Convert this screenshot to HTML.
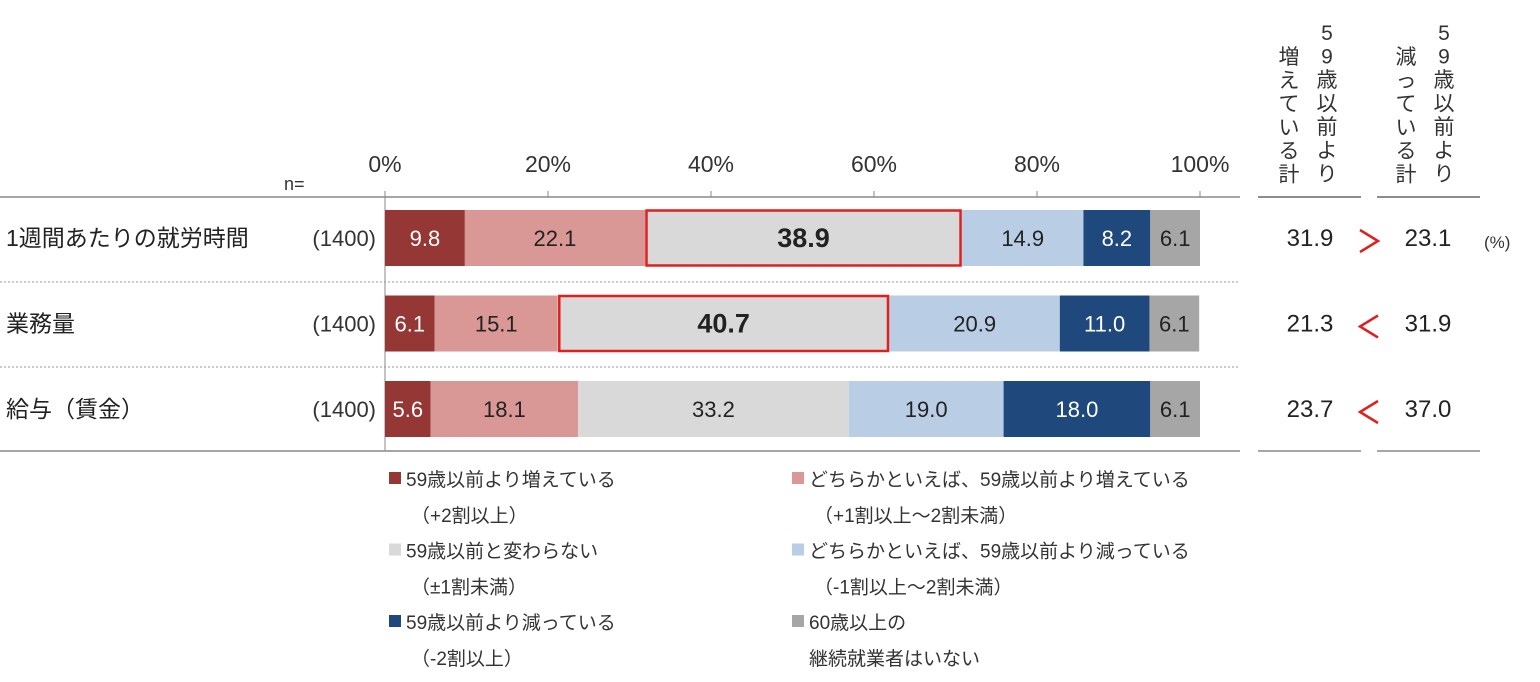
<!DOCTYPE html>
<html><head><meta charset="utf-8"><style>
html,body{margin:0;padding:0;background:#fff;width:1540px;height:682px;overflow:hidden}
svg{display:block;font-family:"Liberation Sans","Noto Sans CJK JP",sans-serif}
</style></head><body>
<svg id="chart" width="1540" height="682" viewBox="0 0 1540 682" xmlns="http://www.w3.org/2000/svg"></svg>
<script>
const categories=["1週間あたりの就労時間","業務量","給与（賃金）"];
const nValues=["(1400)","(1400)","(1400)"];
const s1=[9.8,6.1,5.6];
const s2=[22.1,15.1,18.1];
const s3=[38.9,40.7,33.2];
const s4=[14.9,20.9,19.0];
const s5=[8.2,11.0,18.0];
const s6=[6.1,6.1,6.1];
const incTotals=[31.9,21.3,23.7];
const decTotals=[23.1,31.9,37.0];
const highlight=[true,true,false];
const ticks=[0,20,40,60,80,100];
const seriesNames=["59歳以前より増えている","どちらかといえば、59歳以前より増えている","59歳以前と変わらない","どちらかといえば、59歳以前より減っている","59歳以前より減っている","60歳以上の"];
const seriesSub=["（+2割以上）","（+1割以上～2割未満）","（±1割未満）","（-1割以上～2割未満）","（-2割以上）","継続就業者はいない"];
const colors=["#953735","#d99795","#d9d9d9","#b9cde5","#1f497d","#a6a6a6"];
const textColors=["#fff","#222","#222","#222","#fff","#222"];
const svg=document.getElementById('chart');
const NS="http://www.w3.org/2000/svg";
const X0=385,X1=1200;
const x=v=>X0+(X1-X0)*v/100;
const rowY=i=>210+i*85.5;
const BH=56;
function mk(t,a,txt){const e=document.createElementNS(NS,t);for(const k in a)e.setAttribute(k,a[k]);if(txt!==undefined)e.textContent=txt;svg.appendChild(e);return e;}
let e=mk('line',{x1:0,y1:197,x2:1240,y2:197,stroke:'#888','stroke-width':1.5});

e=mk('line',{x1:0,y1:451,x2:1240,y2:451,stroke:'#888','stroke-width':1.5});

e=mk('line',{x1:X0,y1:197,x2:X0,y2:451,stroke:'#888','stroke-width':1});

[282,367].forEach(y=>{e=mk('line',{x1:0,y1:y,x2:1240,y2:y,stroke:'#999','stroke-width':1,'stroke-dasharray':'2,2'});
});
ticks.forEach(t=>{
e=mk('text',{x:x(t),y:172,'font-size':23,'text-anchor':'middle',fill:'#333'},t+'%');

e=mk('line',{x1:x(t),y1:191,x2:x(t),y2:197,stroke:'#888'});

});
e=mk('text',{x:284,y:190,'font-size':18,fill:'#333'},'n=');

const series=[s1,s2,s3,s4,s5,s6];
categories.forEach((c,i)=>{
const y=rowY(i);
e=mk('text',{x:6,y:y+BH/2+8,'font-size':23,fill:'#222'},c);

e=mk('text',{x:376,y:y+BH/2+8,'font-size':22,fill:'#333','text-anchor':'end'},nValues[i]);

let acc=0;
series.forEach((s,k)=>{
const v=s[i];
e=mk('rect',{x:x(acc),y:y,width:x(acc+v)-x(acc),height:BH,fill:colors[k]});

const bold=(k===2&&highlight[i]);
e=mk('text',{x:(x(acc)+x(acc+v))/2,y:y+BH/2+(bold?9:8),'font-size':bold?27:22,'font-weight':bold?'bold':'normal','text-anchor':'middle',fill:textColors[k]},v.toFixed(1));

if(bold){e=mk('rect',{x:x(acc)+1.5,y:y+0.5,width:x(acc+v)-x(acc)-3,height:BH-1,fill:'none',stroke:'#e0201f','stroke-width':2.5});
}
acc+=v;
});
e=mk('text',{x:1310,y:y+BH/2+8,'font-size':24,'text-anchor':'middle',fill:'#222'},incTotals[i].toFixed(1));

e=mk('text',{x:1428,y:y+BH/2+8,'font-size':24,'text-anchor':'middle',fill:'#222'},decTotals[i].toFixed(1));

const cx=1369,cy=y+BH/2+3,gt=incTotals[i]>decTotals[i];
e=mk('polyline',{points:gt?`${cx-9},${cy-11} ${cx+9},${cy} ${cx-9},${cy+11}`:`${cx+9},${cy-11} ${cx-9},${cy} ${cx+9},${cy+11}`,fill:'none',stroke:'#e0201f','stroke-width':2.5});

});
e=mk('text',{x:1484,y:248,'font-size':17,fill:'#333'},'(%)');

function vcol(chars,cx,y0,name){chars.split('').forEach((ch,j)=>{const t=mk('text',{x:cx,y:y0+j*23.5,'font-size':21,'text-anchor':'middle',fill:'#333'},ch);});}
vcol('59歳以前より',1327,40,'increase-header');
vcol('増えている計',1289,64,'increase-header');
vcol('59歳以前より',1444,40,'decrease-header');
vcol('減っている計',1406,64,'decrease-header');
e=mk('line',{x1:1258,y1:197,x2:1361,y2:197,stroke:'#666','stroke-width':1.5});

e=mk('line',{x1:1377,y1:197,x2:1480,y2:197,stroke:'#666','stroke-width':1.5});

e=mk('line',{x1:1258,y1:451,x2:1361,y2:451,stroke:'#888','stroke-width':1.5});

e=mk('line',{x1:1377,y1:451,x2:1480,y2:451,stroke:'#888','stroke-width':1.5});

seriesNames.forEach((n,k)=>{
const col=k%2,row=Math.floor(k/2);
const lx=col?792:389,ly=479+row*71.5;
e=mk('rect',{x:lx,y:ly-7,width:12,height:12,fill:colors[k]});

e=mk('text',{x:lx+17,y:ly+7,'font-size':19,fill:'#333'},n);

e=mk('text',{x:lx+(k===5?17:22),y:ly+43,'font-size':19,fill:'#333'},seriesSub[k]);

});
</script>
</body></html>
